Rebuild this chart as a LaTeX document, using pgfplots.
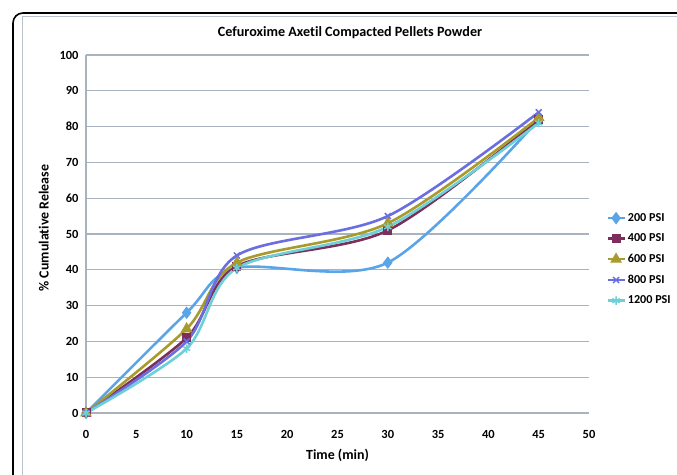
\documentclass[border=0pt]{standalone}
\usepackage{pgfplots}
\pgfplotsset{compat=1.18}
\usepackage{fontspec}
\setmainfont[Ligatures=NoCommon]{Carlito}
\usetikzlibrary{plotmarks}
\definecolor{gridc}{HTML}{A9B3C0}
\definecolor{cA}{HTML}{5AA5E8}
\definecolor{cB}{HTML}{7E2E5A}
\definecolor{cC}{HTML}{A89B2B}
\definecolor{cD}{HTML}{6B6EE0}
\definecolor{cE}{HTML}{6DD0D8}
\begin{document}
\begin{tikzpicture}[x=1bp,y=1bp]
\useasboundingbox (0,0) rectangle (677,475);
\clip (0,0) rectangle (677,475);
\fill[white] (0,0) rectangle (677,475);
\draw[line width=1.6bp, rounded corners=10bp] (13,-30) rectangle (720,462);
\draw[color=gridc!80, line width=0.8bp] (22,-30) rectangle (720,459);
\node[font=\bfseries\fontsize{14.2}{16}\selectfont] at (350,442) {Cefuroxime Axetil Compacted Pellets Powder};
\begin{axis}[
  at={(86bp,62bp)}, anchor=south west,
  scale only axis, width=503bp, height=358bp,
  xmin=0, xmax=50, ymin=0, ymax=100,
  xtick={0,5,...,50}, ytick={0,10,...,100},
  ymajorgrids, grid style={color=gridc, line width=1.2bp},
  axis x line=bottom, axis y line=left,
  axis line style={-, color=gridc, line width=1.2bp},
  major tick length=0pt,
  tick label style={font=\bfseries\fontsize{12.5}{14}\selectfont},
  /pgf/number format/assume math mode=true,
  xticklabel style={yshift=-14bp},
  yticklabel style={xshift=-4bp},
  xlabel={Time (min)}, ylabel={\% Cumulative Release},
  label style={font=\bfseries\fontsize{14}{16}\selectfont},
  xlabel style={yshift=-4bp},
  ylabel style={yshift=4bp, xshift=6bp},
  legend style={at={(1.028,0.429)}, anchor=west, draw=none, fill=none,
    font=\bfseries\fontsize{12.2}{13}\selectfont, row sep=7bp},
  legend cell align=left,
  every axis plot/.append style={line width=2.6bp, smooth, tension=0.5},
]
\addplot[color=cA, mark=diamond*, mark size=4.2bp, mark options={solid}] coordinates {(0,0) (10,28) (15,40.5) (30,42) (45,82)};
\addlegendentry{200 PSI}
\addplot[color=cB, mark=square*, mark size=3.2bp] coordinates {(0,0) (10,21) (15,41) (30,51) (45,82)};
\addlegendentry{400 PSI}
\addplot[color=cC, mark=triangle*, mark size=4.2bp] coordinates {(0,0) (10,23.5) (15,42) (30,53) (45,82.5)};
\addlegendentry{600 PSI}
\addplot[color=cD, mark=x, mark size=4.2bp, mark options={line width=1.5bp}] coordinates {(0,0) (10,20) (15,44) (30,55) (45,84)};
\addlegendentry{800 PSI}
\addplot[color=cE, mark=asterisk, mark size=4.2bp, mark options={line width=1.5bp}] coordinates {(0,0) (10,18) (15,40.5) (30,52) (45,81)};
\addlegendentry{1200 PSI}
\end{axis}
\end{tikzpicture}
\end{document}
